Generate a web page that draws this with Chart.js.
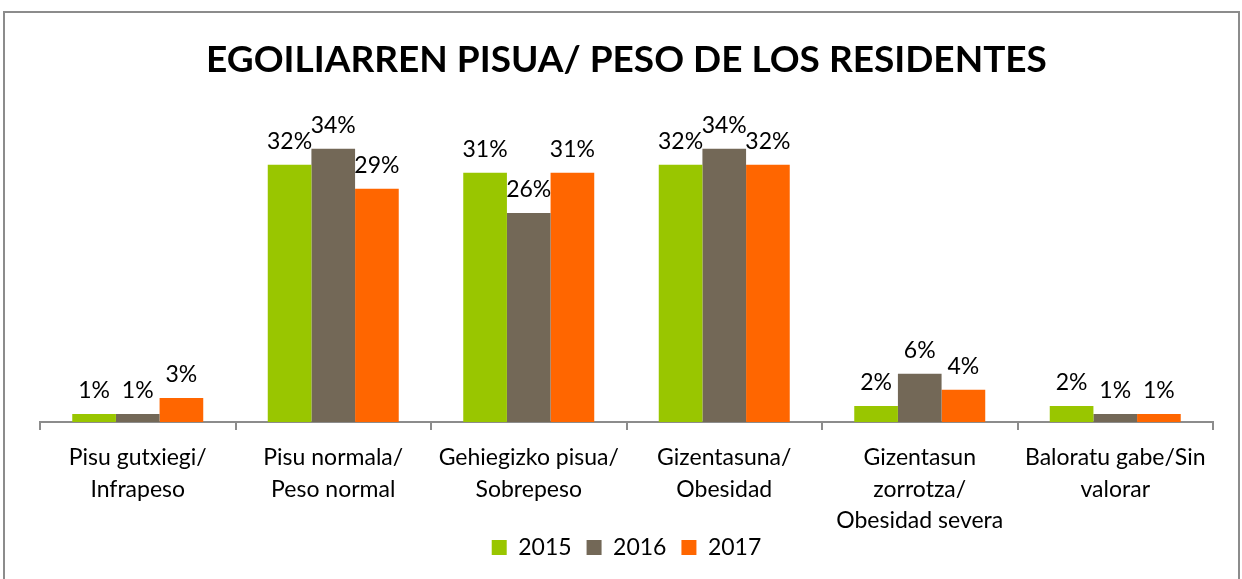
<!DOCTYPE html>
<html>
<head>
<meta charset="utf-8">
<script src="https://cdn.jsdelivr.net/npm/chart.js@4/dist/chart.umd.min.js"></script>
<style>
  html, body { margin: 0; padding: 0; background: #fff; }
  #wrap { position: relative; width: 1242px; height: 579px; }
  #frame {
    position: absolute; left: 3px; top: 11px; width: 1233px; height: 580px;
    border: 2px solid #8c8c8c; border-bottom: none; pointer-events: none;
  }
</style>
</head>
<body>
<div id="wrap">
  <canvas id="chart" width="1242" height="579"></canvas>
  <div id="frame"></div>
</div>
<script>
  // Weight categories (Basque / Spanish)
  const categories = [
    ['Pisu gutxiegi/', 'Infrapeso'],
    ['Pisu normala/', 'Peso normal'],
    ['Gehiegizko pisua/', 'Sobrepeso'],
    ['Gizentasuna/', 'Obesidad'],
    ['Gizentasun', 'zorrotza/', 'Obesidad severa'],
    ['Baloratu gabe/Sin', 'valorar']
  ];

  const years = ['2015', '2016', '2017'];
  const values2015 = [1, 32, 31, 32, 2, 2];
  const values2016 = [1, 34, 26, 34, 6, 1];
  const values2017 = [3, 29, 31, 32, 4, 1];
  const colors = ['#99C600', '#736857', '#FF6600'];

  const FONT = 'Lato, "Open Sans", sans-serif';

  // draw the percentage above each bar
  const valueLabels = {
    id: 'valueLabels',
    afterDatasetsDraw(chart) {
      const ctx = chart.ctx;
      ctx.save();
      ctx.font = '23px ' + FONT;
      ctx.fillStyle = '#000';
      ctx.textAlign = 'center';
      ctx.textBaseline = 'alphabetic';
      chart.data.datasets.forEach((ds, i) => {
        chart.getDatasetMeta(i).data.forEach((bar, j) => {
          ctx.fillText(ds.data[j] + '%', bar.x, bar.y - 16);
        });
      });
      ctx.restore();
    }
  };

  // the x scale is squeezed so the legend sits beside the 3rd label line;
  // widen its label clip box back to the canvas bottom
  const unclipLabels = {
    id: 'unclipLabels',
    afterLayout(chart) {
      chart.scales.x.bottom = chart.height;
    }
  };

  new Chart(document.getElementById('chart'), {
    type: 'bar',
    data: {
      labels: categories,
      datasets: [
        { label: years[0], data: values2015, backgroundColor: colors[0] },
        { label: years[1], data: values2016, backgroundColor: colors[1] },
        { label: years[2], data: values2017, backgroundColor: colors[2] }
      ]
    },
    options: {
      responsive: false,
      animation: false,
      layout: { padding: { left: 40, right: 29, top: 0, bottom: 10 } },
      datasets: {
        bar: { categoryPercentage: 0.67, barPercentage: 1.0 }
      },
      plugins: {
        title: {
          display: true,
          text: 'EGOILIARREN PISUA/ PESO DE LOS RESIDENTES',
          color: '#000',
          font: { family: FONT, size: 37, weight: 'bold' },
          padding: { top: 38, bottom: 18 }
        },
        legend: {
          position: 'bottom',
          labels: {
            color: '#000',
            font: { family: FONT, size: 23 },
            boxWidth: 15,
            boxHeight: 15,
            padding: 15
          }
        },
        tooltip: { enabled: false }
      },
      scales: {
        x: {
          ticks: {
            color: '#000',
            font: { family: FONT, size: 23, lineHeight: 1.37 },
            maxRotation: 0,
            autoSkip: false,
            padding: 12
          },
          grid: {
            offset: true,
            drawOnChartArea: false,
            drawTicks: true,
            tickLength: 8,
            color: '#8c8c8c',
            lineWidth: 2
          },
          border: { display: true, color: '#8c8c8c', width: 2 },
          afterFit(scale) { scale.height = 99; }
        },
        y: {
          display: false,
          min: 0,
          max: 40
        }
      }
    },
    plugins: [valueLabels, unclipLabels]
  });
</script>
</body>
</html>
